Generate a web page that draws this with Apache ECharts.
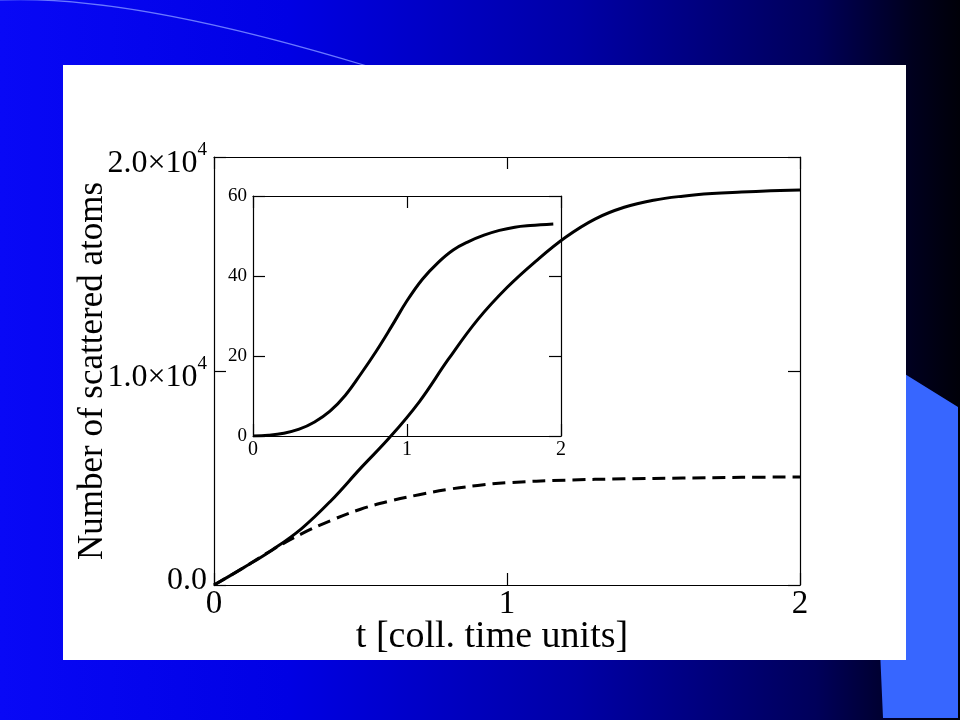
<!DOCTYPE html>
<html>
<head>
<meta charset="utf-8">
<script src="https://cdn.jsdelivr.net/npm/echarts@6/dist/echarts.min.js"></script>
<style>
html,body{margin:0;padding:0;background:#000;}
#c{width:960px;height:720px;}
</style>
</head>
<body>
<div id="c"></div>
<script>
// ---- data ----
const mainT = [0,0.1,0.2,0.3,0.4,0.5,0.6,0.7,0.8,0.9,1.0,1.1,1.2,1.3,1.4,1.5,1.6,1.7,1.8,1.9,2.0];
const solidCounts = [0,800,1650,2650,3950,5450,6900,8550,10550,12400,13900,15150,16250,17100,17650,17980,18170,18290,18360,18420,18460];
const dashedT = [0,0.1,0.2,0.3,0.4,0.5,0.6,0.7,0.8,0.9,1.0,1.2,1.4,1.6,1.8,2.0];
const dashedCounts = [0,800,1650,2400,3020,3540,3920,4220,4470,4650,4780,4900,4960,5000,5030,5050];
const insetT = [0,0.1,0.2,0.3,0.4,0.5,0.6,0.7,0.8,0.9,1.0,1.1,1.2,1.3,1.4,1.5,1.6,1.7,1.8,1.95];
const insetCounts = [0,0.2,0.7,1.7,3.5,6.2,10.2,15.5,21.2,27.4,33.8,39.2,43.3,46.5,48.6,50.2,51.4,52.2,52.6,53];

const mainXTicks = ['0','1','2'];
const mainYMantissa = ['0.0','1.0','2.0'];
const mainYExponent = '4';
const insetXTicks = ['0','1','2'];
const insetYTicks = ['0','20','40','60'];
const xTitle = 't [coll. time units]';
const yTitle = 'Number of scattered atoms';

// ---- chart ----
const SERIF = "'Liberation Serif','Times New Roman',serif";
const chart = echarts.init(document.getElementById('c'), null, {renderer:'canvas'});
function pairs(xs, ys){ return xs.map((x,i)=>[x, ys[i]]); }

const frameLine = {show:true, onZero:false, lineStyle:{color:'#000', width:1.2}};
const tickIn = (len)=>({show:true, inside:true, length:len, lineStyle:{color:'#000', width:1.2}});

const option = {
  animation:false,
  graphic:[
    {type:'rect', z:-30, shape:{x:0,y:0,width:960,height:720},
     style:{fill:new echarts.graphic.LinearGradient(0,0,1,0,[
       {offset:0,color:'#0808f6'},{offset:0.3,color:'#0000e4'},{offset:0.6,color:'#0000a6'},
       {offset:0.85,color:'#00005a'},{offset:0.95,color:'#00001e'},{offset:1,color:'#000008'}])}},
    {type:'bezierCurve', z:-29, shape:{x1:0,y1:0,x2:367,y2:66,cpx1:130,cpy1:-6},
     style:{stroke:'#6a78ff', lineWidth:1.2, fill:null}},
    {type:'polygon', z:-28, shape:{points:[[900,371],[958,407],[958,718],[883,718],[880,650],[900,650]]},
     style:{fill:'#3766ff'}},
    {type:'rect', z:-27, shape:{x:63,y:65,width:843,height:595}, style:{fill:'#ffffff'}}
  ],
  grid:[
    {left:214, top:157, width:586, height:428},
    {left:253, top:196, width:308, height:240}
  ],
  xAxis:[
    {gridIndex:0, type:'value', min:0, max:2, interval:1, position:'bottom',
     axisLine:frameLine, axisTick:tickIn(12), splitLine:{show:false},
     axisLabel:{margin:3, color:'#000', fontFamily:SERIF, fontSize:33,
       formatter:v=>mainXTicks[Math.round(v)]},
     name:xTitle, nameLocation:'middle', nameGap:33, nameMoveOverlap:false,
     nameTextStyle:{color:'#000', fontFamily:SERIF, fontSize:38, padding:[0,30,0,0]}},
    {gridIndex:0, type:'value', min:0, max:2, interval:1, position:'top',
     axisLine:frameLine, axisTick:tickIn(12), splitLine:{show:false}, axisLabel:{show:false}},
    {gridIndex:1, type:'value', min:0, max:2, interval:1, position:'bottom',
     axisLine:frameLine, axisTick:tickIn(12), splitLine:{show:false},
     axisLabel:{margin:4, color:'#000', fontFamily:SERIF, fontSize:20,
       formatter:v=>insetXTicks[Math.round(v)]}},
    {gridIndex:1, type:'value', min:0, max:2, interval:1, position:'top',
     axisLine:frameLine, axisTick:tickIn(12), splitLine:{show:false}, axisLabel:{show:false}}
  ],
  yAxis:[
    {gridIndex:0, type:'value', min:0, max:20000, interval:10000, position:'left',
     axisLine:frameLine, axisTick:tickIn(12), splitLine:{show:false},
     axisLabel:{margin:7, color:'#000', fontFamily:SERIF,
       formatter:v=>{const i=Math.round(v/10000); return i===0 ? '{z|'+mainYMantissa[0]+'}' : '{b|'+mainYMantissa[i]+'×10}{s|'+mainYExponent+'}';},
       rich:{
         z:{fontFamily:SERIF, fontSize:32, lineHeight:32, padding:[0,0,8,0], color:'#000'},
         b:{fontFamily:SERIF, fontSize:32, lineHeight:32, padding:[14,0,0,0], color:'#000'},
         s:{fontFamily:SERIF, fontSize:19, lineHeight:26, verticalAlign:'top', color:'#000'}
       }},
     name:yTitle, nameLocation:'middle', nameGap:104, nameRotate:90, nameMoveOverlap:false,
     nameTextStyle:{color:'#000', fontFamily:SERIF, fontSize:35}},
    {gridIndex:0, type:'value', min:0, max:20000, interval:10000, position:'right',
     axisLine:frameLine, axisTick:tickIn(12), splitLine:{show:false}, axisLabel:{show:false}},
    {gridIndex:1, type:'value', min:0, max:60, interval:20, position:'left',
     axisLine:frameLine, axisTick:tickIn(12), splitLine:{show:false},
     axisLabel:{margin:6, color:'#000', fontFamily:SERIF, fontSize:19,
       formatter:v=>insetYTicks[Math.round(v/20)]}},
    {gridIndex:1, type:'value', min:0, max:60, interval:20, position:'right',
     axisLine:frameLine, axisTick:tickIn(12), splitLine:{show:false}, axisLabel:{show:false}}
  ],
  series:[
    {type:'line', xAxisIndex:0, yAxisIndex:0, data:pairs(dashedT, dashedCounts), smooth:0.4,
     symbol:'none', lineStyle:{color:'#000', width:3, type:[13,7]}, z:3},
    {type:'line', xAxisIndex:0, yAxisIndex:0, data:pairs(mainT, solidCounts), smooth:0.4,
     symbol:'none', lineStyle:{color:'#000', width:3}, z:4},
    {type:'line', xAxisIndex:2, yAxisIndex:2, data:pairs(insetT, insetCounts), smooth:0.4,
     symbol:'none', lineStyle:{color:'#000', width:3}, z:4}
  ]
};
chart.setOption(option);
</script>
</body>
</html>
